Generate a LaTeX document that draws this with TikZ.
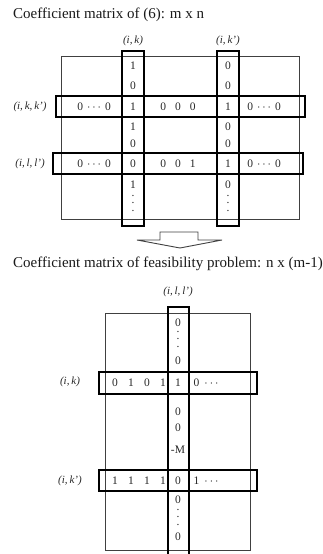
\documentclass[tikz,border=0pt]{standalone}
\usepackage{fontspec}
\setmainfont{Liberation Serif}
\newcommand\vdts{\vbox{\baselineskip7.5pt\lineskiplimit0pt\hbox{.}\hbox{.}\hbox{.}}}
\newcommand\hdts{\hspace{4pt}$\cdots$\hspace{4pt}}
\begin{document}
\begin{tikzpicture}[x=1pt,y=-1pt,
  frame/.style={draw=black!75,line width=0.9pt,inner sep=0pt},
  hbox/.style={draw=black,line width=1.5pt,inner sep=0pt},
  ent/.style={inner sep=0pt,font=\fontsize{11.5}{13}\selectfont,text=black!85},
  dts/.style={inner sep=0pt,font=\fontsize{11.5}{13}\selectfont,text=black!85},
  lab/.style={inner sep=0pt,font=\fontsize{11}{12}\selectfont\itshape,text=black!85},
  ttl/.style={inner sep=0pt,anchor=west,font=\fontsize{15}{17}\selectfont,text=black!90}]
\useasboundingbox (0,0) rectangle (323,554);
\clip (0,0) rectangle (323,554);
% ---- titles
\node[ttl] (t1) at (13,15) {Coefficient matrix of (6): m x n};
\node[ttl] (t2) at (13,264) {Coefficient matrix of feasibility problem: n x (m-1)};
% ---- top matrix
\node[frame,minimum width=238,minimum height=163] (M1) at (180,137.5) {};
\node[hbox,minimum width=22,minimum height=175] (ck) at (133,138.5) {};
\node[hbox,minimum width=22,minimum height=175] (ckp) at (228,138.5) {};
\node[hbox,minimum width=249,minimum height=21] (rkk) at (180.5,106.5) {};
\node[hbox,minimum width=250,minimum height=21] (rll) at (178,163.5) {};
\node[lab] (lck) at (133,41) {(i,\,k)};
\node[lab] (lckp) at (228,41) {(i,\,k')};
\node[lab] (lrkk) at (30,107) {(i,\,k,\,k')};
\node[lab] (lrll) at (30,164) {(i,\,l,\,l')};
% column (i,k)
\node[ent] (a1) at (133,66) {1};
\node[ent] (a2) at (133,86) {0};
\node[ent] (a3) at (133,107) {1};
\node[ent] (a4) at (133,127) {1};
\node[ent] (a5) at (133,144) {0};
\node[ent] (a6) at (133,164) {0};
\node[ent] (a7) at (133,185) {1};
\node[dts] (a8) at (133,203) {\vdts};
% column (i,k')
\node[ent] (b1) at (228,66) {0};
\node[ent] (b2) at (228,86) {0};
\node[ent] (b3) at (228,107) {1};
\node[ent] (b4) at (228,127) {0};
\node[ent] (b5) at (228,144) {0};
\node[ent] (b6) at (228,164) {1};
\node[ent] (b7) at (228,185) {0};
\node[dts] (b8) at (228,203) {\vdts};
% rows
\node[ent] (r1a) at (94,107) {0\hdts0};
\node[ent] (r1b) at (178,107) {0\hspace{9pt}0\hspace{9pt}0};
\node[ent] (r1c) at (264,107) {0\hdts0};
\node[ent] (r2a) at (94,164) {0\hdts0};
\node[ent] (r2b) at (178,164) {0\hspace{9pt}0\hspace{9pt}1};
\node[ent] (r2c) at (264,164) {0\hdts0};
% ---- arrow
\draw[black!75,line width=0.9pt,fill=white] (160,232) -- (198,232) -- (198,240) -- (222,240) -- (180,248) -- (137,240) -- (160,240) -- cycle;
% ---- bottom matrix
\node[frame,minimum width=145,minimum height=237] (M2) at (177.5,431.5) {};
\node[hbox,minimum width=21,minimum height=253] (cl) at (178.5,433.5) {};
\node[hbox,minimum width=158,minimum height=22] (rk) at (178,383) {};
\node[hbox,minimum width=158,minimum height=21] (rkp) at (178,480.5) {};
\node[lab] (lcl) at (178,292) {(i,\,l,\,l')};
\node[lab] (lrk) at (70,382) {(i,\,k)};
\node[lab] (lrkp) at (70,481) {(i,\,k')};
% column
\node[ent] (c1) at (178,323) {0};
\node[dts] (c2) at (178,339) {\vdts};
\node[ent] (c3) at (178,361) {0};
\node[ent] (c4) at (178,383) {1};
\node[ent] (c5) at (178,412) {0};
\node[ent] (c6) at (178,428) {0};
\node[ent] (c7) at (178,450) {-M};
\node[ent] (c8) at (178,481) {0};
\node[ent] (c9) at (178,500) {0};
\node[dts] (c10) at (178,517) {\vdts};
\node[ent] (c11) at (178,537) {0};
% rows
\node[ent] (d1) at (115,383) {0};
\node[ent] (d2) at (131,383) {1};
\node[ent] (d3) at (147,383) {0};
\node[ent] (d4) at (163,383) {1};
\node[ent,anchor=west] (d5) at (193.5,383) {0\hspace{5pt}$\cdots$};
\node[ent] (e1) at (115,481) {1};
\node[ent] (e2) at (131,481) {1};
\node[ent] (e3) at (147,481) {1};
\node[ent] (e4) at (163,481) {1};
\node[ent,anchor=west] (e5) at (193.5,481) {1\hspace{5pt}$\cdots$};
\end{tikzpicture}
\end{document}
